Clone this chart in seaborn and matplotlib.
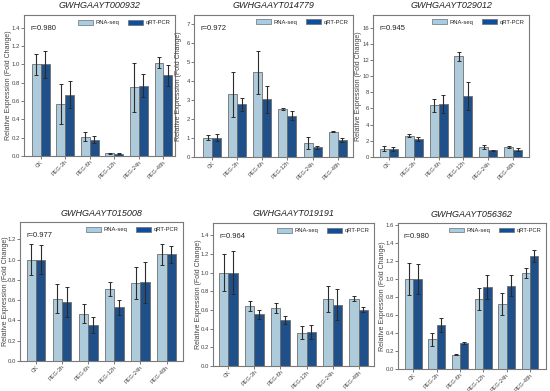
import pandas as pd
import matplotlib
matplotlib.use("Agg")
import matplotlib.pyplot as plt
import seaborn as sns
import numpy as np

# Time points and methods
times = ["CK", "PEG-3h", "PEG-6h", "PEG-12h", "PEG-24h", "PEG-48h"]
methods = ["RNA-seq", "qRT-PCR"]

genes = ["GWHGAAYT000932", "GWHGAAYT014779", "GWHGAAYT029012",
         "GWHGAAYT015008", "GWHGAAYT019191", "GWHGAAYT056362"]
r_values = ["r=0.980", "r=0.972", "r=0.945", "r=0.977", "r=0.964", "r=0.980"]

# Values (mean, error) per gene
rna_mean = [
    [1.00, 0.565, 0.21, 0.03, 0.75, 1.02],
    [1.00, 3.28, 4.45, 2.50, 0.72, 1.33],
    [1.00, 2.60, 6.36, 12.45, 1.25, 1.20],
    [1.00, 0.615, 0.467, 0.707, 0.77, 1.05],
    [1.00, 0.643, 0.62, 0.354, 0.714, 0.72],
    [1.00, 0.33, 0.16, 0.778, 0.722, 1.06],
]
rna_err = [
    [0.11, 0.22, 0.05, 0.005, 0.27, 0.06],
    [0.12, 1.17, 1.13, 0.05, 0.30, 0.05],
    [0.30, 0.20, 0.80, 0.55, 0.25, 0.15],
    [0.15, 0.145, 0.09, 0.07, 0.155, 0.10],
    [0.20, 0.05, 0.05, 0.07, 0.14, 0.025],
    [0.175, 0.07, 0.01, 0.12, 0.12, 0.055],
]
qpcr_mean = [
    [1.00, 0.67, 0.18, 0.025, 0.77, 0.88],
    [1.00, 2.76, 3.02, 2.17, 0.50, 0.90],
    [1.00, 2.20, 6.50, 7.55, 0.80, 0.90],
    [1.00, 0.582, 0.355, 0.53, 0.776, 1.053],
    [1.00, 0.553, 0.493, 0.36, 0.654, 0.604],
    [1.00, 0.489, 0.285, 0.907, 0.926, 1.25],
]
qpcr_err = [
    [0.15, 0.15, 0.04, 0.005, 0.13, 0.11],
    [0.18, 0.33, 0.73, 0.23, 0.08, 0.10],
    [0.25, 0.30, 1.10, 1.75, 0.10, 0.20],
    [0.14, 0.15, 0.08, 0.075, 0.20, 0.085],
    [0.23, 0.05, 0.04, 0.075, 0.165, 0.025],
    [0.17, 0.08, 0.01, 0.135, 0.12, 0.065],
]

# y ranges and tick steps per panel
ylims = [1.54, 7.47, 17.6, 1.37, 1.53, 1.62]
ysteps = [0.2, 1, 2, 0.2, 0.2, 0.2]
xlims = [(-0.68, 5.47), (-0.72, 5.61), (-0.63, 5.63),
         (-0.61, 5.63), (-0.59, 5.59), (-0.66, 5.69)]

# axes boxes in figure fractions [left, bottom, width, height]
boxes = [
    [0.0436, 0.601, 0.2745, 0.3606],
    [0.3527, 0.599, 0.2891, 0.3632],
    [0.6782, 0.599, 0.2836, 0.3632],
    [0.0364, 0.0767, 0.2964, 0.3555],
    [0.3873, 0.0639, 0.2927, 0.3657],
    [0.7236, 0.0563, 0.2691, 0.3734],
]
title_y = [0.985, 0.985, 0.985, 0.453, 0.453, 0.451]

colors = ["#a6cde3", "#0d4f9c"]

sns.set_style("ticks")
plt.rcParams["font.family"] = ["Liberation Sans", "DejaVu Sans"]

fig = plt.figure(figsize=(5.5, 3.91), dpi=100)

for i in range(6):
    ax = fig.add_axes(boxes[i])
    df = pd.DataFrame({
        "Time": times * 2,
        "Method": [methods[0]] * 6 + [methods[1]] * 6,
        "Value": rna_mean[i] + qpcr_mean[i],
    })
    sns.barplot(data=df, x="Time", y="Value", hue="Method", order=times,
                hue_order=methods, palette=colors, width=0.72, errorbar=None,
                edgecolor="#6e6e6e", linewidth=0.6, ax=ax, legend=False)
    # error bars at the bar centres
    errs = [rna_err[i], qpcr_err[i]]
    for cont, err in zip(ax.containers, errs):
        xs = [p.get_x() + p.get_width() / 2 for p in cont]
        ys = [p.get_height() for p in cont]
        ax.errorbar(xs, ys, yerr=err, fmt="none", ecolor="#2b2b2b",
                    elinewidth=0.8, capsize=1.5, capthick=0.7)

    ax.set_xlim(*xlims[i])
    ax.set_ylim(0, ylims[i])
    step = ysteps[i]
    ticks = np.arange(0, ylims[i] + 1e-9, step)
    ax.set_yticks(ticks)
    if step < 1:
        ax.set_yticklabels([f"{t:.1f}" for t in ticks])
    ax.set_xlabel("")
    ax.set_ylabel("Relative Expression (Fold Change)", fontsize=5.0,
                  color="#444444")
    # label sits ~12 px left of the spine, as in the reference
    ax_w_px = boxes[i][2] * 550
    ax.yaxis.set_label_coords(-11.5 / ax_w_px, 0.5)
    ax.tick_params(axis="y", labelsize=4.3, length=2, width=0.5, pad=1,
                   colors="#444444")
    ax.tick_params(axis="x", labelsize=4.1, length=2, width=0.5, pad=0.5,
                   colors="#444444")
    for lab in ax.get_xticklabels():
        lab.set_rotation(45)
        lab.set_ha("right")
        lab.set_rotation_mode("anchor")
    for s in ax.spines.values():
        s.set_visible(True)
        s.set_color("#7a7a7a")
        s.set_linewidth(0.8)

    ax.text(0.04, 0.93, r_values[i], transform=ax.transAxes, fontsize=5.5,
            va="top", ha="left", color="#222222")
    handles = [plt.Rectangle((0, 0), 1, 1, facecolor=c, edgecolor="#6e6e6e",
                             linewidth=0.5) for c in colors]
    ax.legend(handles, methods, loc="upper right", ncol=2, frameon=False,
              fontsize=4.2, handlelength=2.6, handleheight=0.9,
              columnspacing=1.5, handletextpad=0.4, borderaxespad=0.4)

    x0, y0, w, h = boxes[i]
    fig.text(x0 + w / 2, title_y[i], genes[i], ha="center", va="center",
             fontsize=6.5, style="italic", color="#222222")

fig.savefig("out.png", dpi=100)
